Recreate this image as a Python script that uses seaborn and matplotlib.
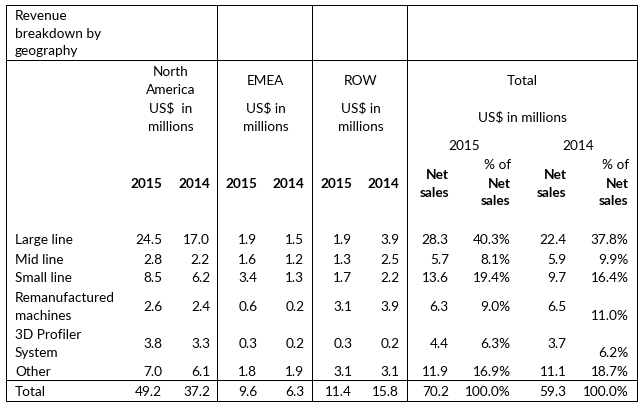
import matplotlib
matplotlib.use("Agg")
import matplotlib.pyplot as plt
import seaborn as sns

# Table data
categories = ["Large line", "Mid line", "Small line",
              "Remanufactured\nmachines", "3D Profiler\nSystem", "Other"]
na_2015 = [24.5, 2.8, 8.5, 2.6, 3.8, 7.0]
na_2014 = [17.0, 2.2, 6.2, 2.4, 3.3, 6.1]
emea_2015 = [1.9, 1.6, 3.4, 0.6, 0.3, 1.8]
emea_2014 = [1.5, 1.2, 1.3, 0.2, 0.2, 1.9]
row_2015 = [1.9, 1.3, 1.7, 3.1, 0.3, 3.1]
row_2014 = [3.9, 2.5, 2.2, 3.9, 0.2, 3.1]
total_2015 = [28.3, 5.7, 13.6, 6.3, 4.4, 11.9]
pct_2015 = [40.3, 8.1, 19.4, 9.0, 6.3, 16.9]
total_2014 = [22.4, 5.9, 9.7, 6.5, 3.7, 11.1]
pct_2014 = [37.8, 9.9, 16.4, 11.0, 6.2, 18.7]
total_row = [49.2, 37.2, 9.6, 6.3, 11.4, 15.8, 70.2, 100.0, 59.3, 100.0]

sns.set_theme(style="white")
plt.rcParams["font.family"] = ["Lato", "DejaVu Sans"]
FS = 9.8

fig = plt.figure(figsize=(6.42, 4.05), dpi=100)
ax = fig.add_axes([0, 0, 1, 1])
ax.set_xlim(0, 642)
ax.set_ylim(405, 0)
ax.axis("off")

# grid lines (pixel-centred so they stay crisp)
lw = 0.72
L, R, T, B = 5.5, 636.5, 4.5, 400.5
ax.plot([L, R, R, L, L], [T, T, B, B, T], color="black", lw=lw, solid_capstyle="projecting")
for x in [216.5, 311.5, 406.5]:
    ax.plot([x, x], [T, B], color="black", lw=lw)
for y in [59.5, 379.5]:
    ax.plot([L, R], [y, y], color="black", lw=lw)


def put(x, y, s, ha="center", bold=False, step=18.0):
    for i, line in enumerate(s.split("\n")):
        ax.text(x, y + i * step, line, ha=ha, va="center_baseline", fontsize=FS,
                fontweight="bold" if bold else "normal", color="black")


# header
put(15, 15, "Revenue\nbreakdown by\ngeography", ha="left", step=17.5)
put(171, 70.5, "North\nAmerica\nUS$  in\nmillions", step=18.4)
for cx, name in [(265.5, "EMEA"), (360.5, "ROW")]:
    put(cx, 80, name)
    put(cx, 107.7, "US$ in\nmillions")
put(522.5, 80, "Total")
put(522.5, 116.7, "US$ in millions")
put(464.3, 145, "2015")
put(577.7, 145, "2014")

col_right = [162.3, 210, 257.3, 304.3, 352.3, 399.3, 448.8, 510.7, 566.7, 628.7]
for i, x in enumerate(col_right[:6]):
    put(x, 182.7, "2015" if i % 2 == 0 else "2014", ha="right", bold=True)
for x in [col_right[6], col_right[8]]:
    put(x, 173.7, "Net\nsales", ha="right", bold=True)
for x in [col_right[7], col_right[9]]:
    put(x, 164.3, "% of", ha="right")
    put(x, 182.7, "Net\nsales", ha="right", bold=True, step=17.6)

# body rows
row_y = [239.5, 258.7, 277.5, 305.8, 342.7, 370.7]
columns = [na_2015, na_2014, emea_2015, emea_2014, row_2015, row_2014,
           total_2015, pct_2015, total_2014, pct_2014]
for r, (cat, y) in enumerate(zip(categories, row_y)):
    two = "\n" in cat
    put(15, y - 8.8 if two else y, cat, ha="left")
    for c, (vals, x) in enumerate(zip(columns, col_right)):
        txt = f"{vals[r]:.1f}%" if c in (7, 9) else f"{vals[r]:.1f}"
        yy = y + 9.2 if (two and c == 9) else y
        put(x, yy, txt, ha="right")

put(15, 390.7, "Total", ha="left")
for c, (v, x) in enumerate(zip(total_row, col_right)):
    put(x, 390.7, f"{v:.1f}%" if c in (7, 9) else f"{v:.1f}", ha="right")

fig.savefig("out.png", dpi=100)
